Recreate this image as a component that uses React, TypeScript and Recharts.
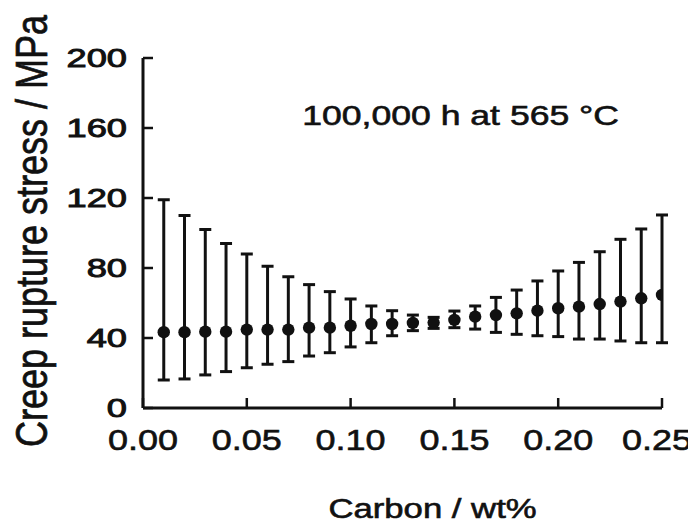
import { ScatterChart, Scatter, XAxis, YAxis, ErrorBar, ReferenceDot } from 'recharts';

const carbon = [
  0.01, 0.02, 0.03, 0.04, 0.05, 0.06, 0.07, 0.08, 0.09, 0.1, 0.11, 0.12, 0.13,
  0.14, 0.15, 0.16, 0.17, 0.18, 0.19, 0.2, 0.21, 0.22, 0.23, 0.24, 0.25,
];
const stressMean = [
  43.3, 43.3, 43.6, 43.6, 44.8, 44.8, 44.8, 45.9, 45.9, 47, 48, 48, 48.6,
  48.8, 50.3, 52.2, 53.1, 54.1, 55.6, 57, 57.9, 59.4, 60.8, 62.7, 64.6,
];
const stressUpper = [
  119, 110, 102, 94, 88, 81, 75, 70.5, 66.5, 62.3, 58.3, 55.6, 53.1,
  51.8, 55.4, 58.3, 63.2, 67.4, 72.6, 78.3, 83.2, 89.3, 96.4, 102.3, 110.3,
];
const stressLower = [
  16, 16.6, 18.9, 20.8, 23, 25, 26.5, 29.7, 31.6, 34.9, 37.3, 41.3, 44.2,
  45.5, 45.9, 45.1, 43.2, 42.1, 41.3, 40.8, 39.4, 39.4, 38.3, 37.3, 37.3,
];
const xTicks = [0, 0.05, 0.1, 0.15, 0.2, 0.25];
const yTicks = [0, 40, 80, 120, 160, 200];
const note = '100,000 h at 565 °C';

const data = carbon.map((c, i) => ({
  c,
  s: stressMean[i],
  err: [stressMean[i] - stressLower[i], stressUpper[i] - stressMean[i]],
}));

const FONT = '"Liberation Sans", Arial, sans-serif';
const INK = '#111';
// scanned print: glyphs look a little heavier than the regular face
const heavy = { fill: INK, stroke: INK, strokeWidth: 0.6, fontFamily: FONT };

const XTick = (props: any) => {
  const { x, y, payload } = props;
  // last label sits a touch left so it stays inside the page
  const cx = Math.min(x, 649);
  return (
    <g transform={`translate(${cx},${y})`}>
      <text transform="scale(1.2,1)" textAnchor="middle" fontSize={30} {...heavy}>
        {Number(payload.value).toFixed(2)}
      </text>
    </g>
  );
};

const YTick = (props: any) => {
  const { x, y, payload } = props;
  return (
    <g transform={`translate(${x},${y})`}>
      <text transform="scale(1.45,1)" textAnchor="end" dy="0.36em" fontSize={25} {...heavy} strokeWidth={0.9}>
        {payload.value}
      </text>
    </g>
  );
};

const NoTick = () => <g />;

const Dot = (props: any) => <circle cx={props.cx} cy={props.cy} r={6.2} fill={INK} />;

export default function App() {
  return (
    <>
      <style>{'.recharts-wrapper, svg.recharts-surface { overflow: visible !important; }'}</style>
      <ScatterChart width={688} height={516} margin={{ top: 50, right: 34, bottom: 36, left: 0 }}>
        <XAxis
          dataKey="c"
          type="number"
          domain={[0, 0.25]}
          ticks={xTicks}
          height={80}
          tickSize={-10}
          tickMargin={52}
          tick={<XTick />}
          axisLine={{ stroke: INK, strokeWidth: 3 }}
          tickLine={{ stroke: INK, strokeWidth: 2.5 }}
          allowDataOverflow
          label={(p: any) => {
            const vb = p.viewBox;
            return (
              <g transform={`translate(${vb.x + vb.width / 2 + 30},${vb.y + 110})`}>
                <text transform="scale(1.24,1)" textAnchor="middle" fontSize={28} {...heavy}>
                  Carbon / wt%
                </text>
              </g>
            );
          }}
        />
        <XAxis
          xAxisId="top"
          orientation="top"
          type="number"
          domain={[0, 0.25]}
          ticks={xTicks}
          height={0}
          tickSize={-10}
          tick={<NoTick />}
          axisLine={{ stroke: INK, strokeWidth: 3 }}
          tickLine={{ stroke: INK, strokeWidth: 2.5 }}
          allowDataOverflow
        />
        <YAxis
          dataKey="s"
          type="number"
          domain={[0, 200]}
          ticks={yTicks}
          width={135}
          tickSize={-10}
          tickMargin={26}
          tick={<YTick />}
          axisLine={{ stroke: INK, strokeWidth: 3 }}
          tickLine={{ stroke: INK, strokeWidth: 2.5 }}
          allowDataOverflow
          label={(p: any) => {
            const vb = p.viewBox;
            return (
              <g transform={`translate(${vb.x + 23},${vb.y + vb.height / 2 - 2}) scale(1.22,1) rotate(-90)`}>
                <text textAnchor="middle" dy="0.36em" fontSize={36} {...heavy}>
                  Creep rupture stress / MPa
                </text>
              </g>
            );
          }}
        />
        <YAxis
          yAxisId="right"
          orientation="right"
          type="number"
          domain={[0, 200]}
          ticks={yTicks}
          width={0}
          tickSize={-10}
          tick={<NoTick />}
          axisLine={{ stroke: INK, strokeWidth: 3 }}
          tickLine={{ stroke: INK, strokeWidth: 2.5 }}
          allowDataOverflow
        />
        <ReferenceDot
          x={0.153}
          y={161.7}
          r={0}
          shape={(p: any) => (
            <g transform={`translate(${p.cx},${p.cy})`}>
              <text transform="scale(1.27,1)" textAnchor="middle" fontSize={28} {...heavy}>
                {note}
              </text>
            </g>
          )}
        />
        <Scatter data={data} shape={<Dot />} isAnimationActive={false}>
          <ErrorBar dataKey="err" direction="y" width={6} stroke={INK} strokeWidth={3} />
        </Scatter>
      </ScatterChart>
    </>
  );
}
